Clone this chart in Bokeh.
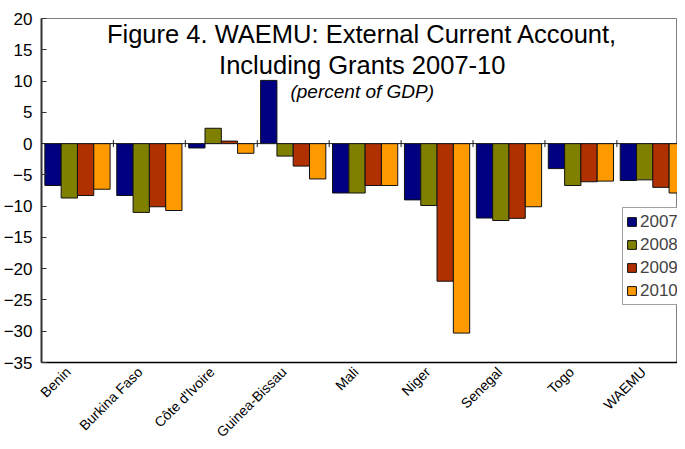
import numpy as np
from bokeh.plotting import figure
from bokeh.models import (ColumnDataSource, Range1d, FixedTicker, Span,
                          Label, Legend)
from bokeh.transform import dodge
from bokeh.embed import file_html
from bokeh.resources import INLINE

countries = ["Benin", "Burkina Faso", "Côte d'Ivoire", "Guinea-Bissau", "Mali",
             "Niger", "Senegal", "Togo", "WAEMU"]
years = ["2007", "2008", "2009", "2010"]
v2007 = [-6.7, -8.3, -0.7, 10.1, -7.9, -9.0, -11.9, -4.0, -5.9]
v2008 = [-8.7, -11.0, 2.45, -2.0, -7.9, -9.9, -12.3, -6.7, -5.8]
v2009 = [-8.3, -10.1, 0.4, -3.6, -6.7, -22.0, -11.95, -6.1, -7.0]
v2010 = [-7.3, -10.7, -1.55, -5.65, -6.7, -30.3, -10.1, -6.0, -7.9]
colors = ["#000080", "#808000", "#B03000", "#FF9900"]
y_ticks = list(range(-35, 21, 5))

title1 = "Figure 4. WAEMU: External Current Account,"
title2 = "Including Grants 2007-10"
subtitle = "(percent of GDP)"

xc = [i + 0.5 for i in range(len(countries))]
cat_bounds = [i + 1 for i in range(len(countries) - 1)]
src = ColumnDataSource(dict(x=xc, **{"2007": v2007, "2008": v2008,
                                     "2009": v2009, "2010": v2010}))

FONT = "Liberation Sans"

p = figure(width=677, height=448, output_backend="svg", toolbar_location=None,
           x_range=Range1d(0, 8.843), y_range=Range1d(-35, 20),
           min_border_left=35, min_border_right=0, min_border_top=18,
           min_border_bottom=86)
p.xgrid.visible = False
p.ygrid.visible = False
p.outline_line_color = "#808080"
p.background_fill_color = "white"
p.border_fill_color = "white"

offsets = [-0.34, -0.113, 0.113, 0.34]
renderers = []
for yr, off, col in zip(years, offsets, colors):
    r = p.vbar(x=dodge("x", off, range=p.x_range), top=yr, bottom=0, width=0.227,
               source=src, fill_color=col, line_color="#111111", line_width=1)
    renderers.append((yr, [r]))

# category axis crossing at zero: line + small crossing ticks between groups
p.add_layout(Span(location=0, dimension="width", line_color="#222222",
                  line_width=1))
p.scatter(x=cat_bounds, y=[0] * len(cat_bounds), marker="dash", angle=np.pi / 2,
          size=7, line_color="#222222", line_width=1)

# y axis
p.yaxis.ticker = FixedTicker(ticks=y_ticks)
p.yaxis.major_tick_in = 5
p.yaxis.major_tick_out = 0
p.yaxis.minor_tick_line_color = None
p.yaxis.axis_line_color = "#333333"
p.yaxis.axis_line_width = 2
p.yaxis.major_tick_line_color = "#333333"
p.yaxis.major_label_text_font = FONT
p.yaxis.major_label_text_font_size = "17px"
p.yaxis.major_label_text_color = "black"
p.yaxis.major_label_standoff = 9

# x axis (bottom, labels) - labels sit slightly left of the group centre
label_pos = [x - 0.13 for x in xc]
p.xaxis.ticker = FixedTicker(ticks=label_pos)
p.xaxis.major_label_overrides = {x: c for x, c in zip(label_pos, countries)}
p.xaxis.major_label_orientation = np.pi / 4
p.xaxis.major_tick_in = 0
p.xaxis.major_tick_out = 0
p.xaxis.minor_tick_line_color = None
p.xaxis.axis_line_color = "black"
p.xaxis.axis_line_width = 1.5
p.xaxis.major_label_text_font = FONT
p.xaxis.major_label_text_font_size = "14px"
p.xaxis.major_label_text_color = "black"
p.xaxis.major_label_standoff = 7

# titles
for txt, y, size, style in [(title1, 17.6, "25.5px", "normal"),
                            (title2, 12.6, "25.5px", "normal"),
                            (subtitle, 8.4, "19px", "italic")]:
    p.add_layout(Label(x=4.46, y=y, text=txt, text_align="center",
                       text_baseline="alphabetic", text_font=FONT,
                       text_font_size=size, text_font_style=style,
                       text_color="black"))

legend = Legend(items=renderers, location=(581, 57))
legend.label_text_font = FONT
legend.label_text_font_size = "17px"
legend.glyph_width = 11
legend.glyph_height = 11
legend.label_height = 21
legend.spacing = 2
legend.padding = 3
legend.margin = 0
legend.label_standoff = 3
legend.border_line_color = "#444444"
legend.background_fill_color = "white"
p.add_layout(legend)

open("out.html", "w").write(file_html(p, INLINE))
